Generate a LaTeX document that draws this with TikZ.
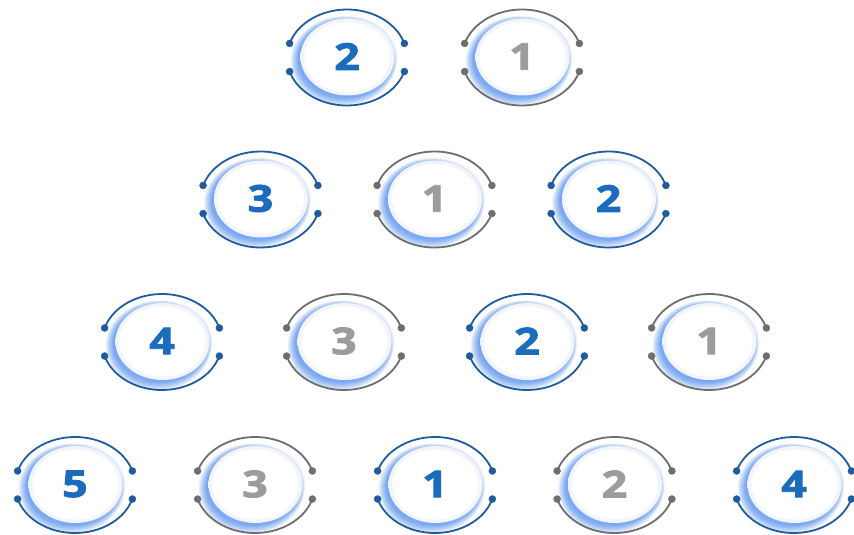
\documentclass[tikz,border=0pt]{standalone}
\usepackage{fontspec}
\newfontfamily\numfont{Open Sans}[BoldFont={* Bold}, BoldFeatures={FakeBold=2.4}]
\definecolor{arcblue}{HTML}{1F5C9E}
\definecolor{arcgrey}{HTML}{6E6E6E}
\definecolor{numblue}{HTML}{1B6CBC}
\definecolor{numgrey}{HTML}{9C9C9C}
\definecolor{glowblue}{HTML}{3F86F2}
\definecolor{rimwhite}{HTML}{F1F5FB}
\tikzset{
  bluestyle/.style={draw=arcblue, fill=arcblue, text=numblue},
  greystyle/.style={draw=arcgrey, fill=arcgrey, text=numgrey},
  ringarc/.style={line width=1.8pt, fill=none},
  numtext/.style={font=\numfont\bfseries\fontsize{37}{37}\selectfont, xscale=1.2, inner sep=0pt},
}
\newcommand\stepunit[5]{%
  \begin{scope}[shift={(#2,#3)}]
    \foreach \k in {0,...,9} {
      \fill[glowblue, opacity=0.018] (0,0) ellipse [x radius={51-0.4*\k}, y radius={42-0.4*\k}];
    }
    \foreach \k in {0,...,19} {
      \fill[glowblue, opacity=0.045] (-3.5,3.5) ellipse [x radius={53-0.4*\k}, y radius={45-0.4*\k}];
    }
    \shade[inner color=white, outer color=rimwhite] (0.5,-0.5) ellipse [x radius=47, y radius=38.5];
    \fill[white] (0.5,-0.5) ellipse [x radius=43, y radius=35];
    \draw[#5, ringarc] (17:60 and 48) arc [start angle=17, end angle=163, x radius=60, y radius=48];
    \draw[#5, ringarc] (197:60 and 48) arc [start angle=197, end angle=343, x radius=60, y radius=48];
    \foreach \a in {17,163,197,343} { \fill[#5] (\a:60 and 48) circle (3.5); }
    \node[#5, numtext, draw=none, fill=none] (#1) at (0,-1) {#4};
  \end{scope}%
}
\begin{document}
\begin{tikzpicture}[x=1pt, y=-1pt]
\useasboundingbox (0,0) rectangle (854,535);
\fill[white] (0,0) rectangle (854,535);
% row 1
\stepunit{a1}{347}{57.5}{2}{bluestyle}
\stepunit{a2}{522}{57.5}{1}{greystyle}
% row 2
\stepunit{b1}{260.5}{199.5}{3}{bluestyle}
\stepunit{b2}{434.5}{199.5}{1}{greystyle}
\stepunit{b3}{608.5}{199.5}{2}{bluestyle}
% row 3
\stepunit{c1}{162}{342}{4}{bluestyle}
\stepunit{c2}{344}{342}{3}{greystyle}
\stepunit{c3}{527}{342}{2}{bluestyle}
\stepunit{c4}{709}{342}{1}{greystyle}
% row 4
\stepunit{d1}{75}{485}{5}{bluestyle}
\stepunit{d2}{255}{485}{3}{greystyle}
\stepunit{d3}{435}{485}{1}{bluestyle}
\stepunit{d4}{614.5}{485}{2}{greystyle}
\stepunit{d5}{794}{485}{4}{bluestyle}
\end{tikzpicture}
\end{document}
